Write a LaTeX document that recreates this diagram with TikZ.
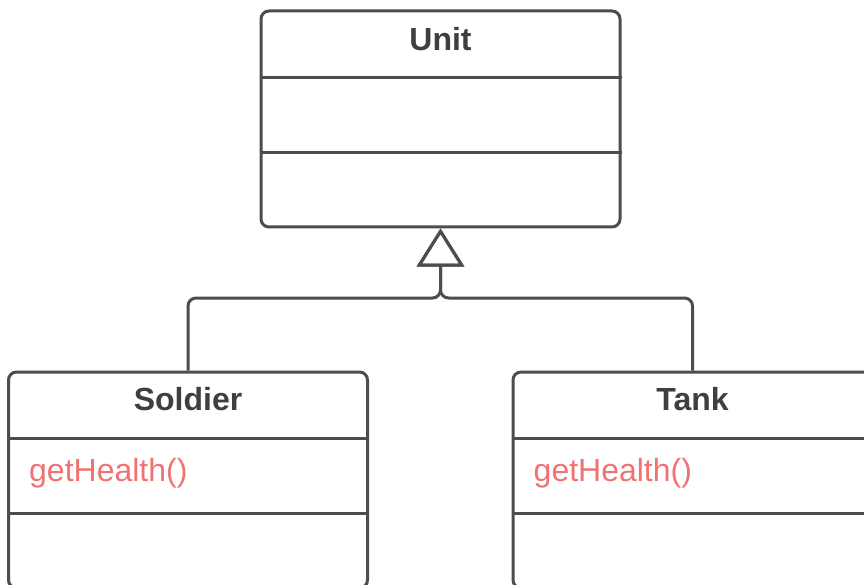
\documentclass[tikz,border=0pt]{standalone}
\usepackage{fontspec}
\setmainfont{Liberation Sans}
\usetikzlibrary{arrows.meta}
\definecolor{linegray}{HTML}{4D4D4D}
\definecolor{textgray}{HTML}{3F3F3F}
\definecolor{opred}{HTML}{F07272}

\begin{document}
\begin{tikzpicture}[x=1pt, y=-1pt,
  classbox/.style={rectangle, draw=linegray, line width=3pt, rounded corners=8pt,
    minimum width=359pt, minimum height=216pt, inner sep=0pt},
  title/.style={font=\fontsize{32}{38}\selectfont\bfseries, text=textgray, inner sep=0pt},
  op/.style={font=\fontsize{32}{38}\selectfont, text=opred, anchor=west, inner sep=0pt},
  sep/.style={draw=linegray, line width=3pt},
  arr/.style={draw=linegray, line width=3pt, rounded corners=8pt,
    -{Triangle[open, length=38pt, width=47pt, line join=miter]}}
]
\useasboundingbox (0,0) rectangle (864,585);

\node[classbox] (unit)    at (440.5,119) {};
\node[classbox] (soldier) at (188,480)   {};
\node[classbox] (tank)    at (692.5,480) {};

\foreach \cls in {unit, soldier, tank}
  \foreach \off in {68, 143}
    \draw[sep] ([yshift=-\off pt]\cls.north west) -- ([yshift=-\off pt]\cls.north east);

\node[title] (unitname)    at ([yshift=-30pt]unit.north)    {Unit};
\node[title] (soldiername) at ([yshift=-29pt]soldier.north) {Soldier};
\node[title] (tankname)    at ([yshift=-29pt]tank.north)    {Tank};

\node[op] (soldierop) at ([xshift=22pt, yshift=-103pt]soldier.north west) {getHealth()};
\node[op] (tankop)    at ([xshift=22pt, yshift=-103pt]tank.north west)    {getHealth()};

% inheritance
\coordinate (join) at (440.5,298);
\draw[arr] (soldier.north) |- (join) -- (unit.south);
\draw[arr] (tank.north) |- (join) -- (unit.south);
\end{tikzpicture}
\end{document}
